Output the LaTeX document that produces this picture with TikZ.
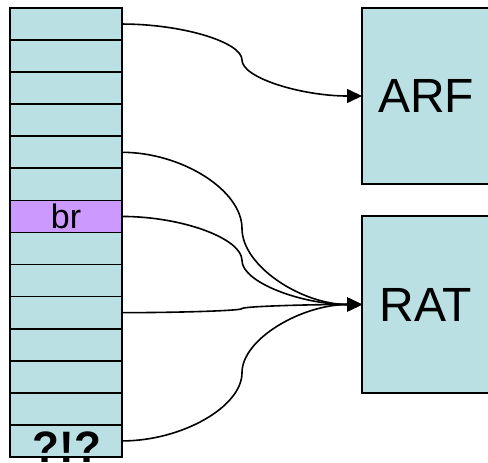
\documentclass[tikz,border=0pt]{standalone}
\usepackage{fontspec}
\setmainfont{Liberation Sans}
\usetikzlibrary{arrows.meta,calc}
\definecolor{slot}{HTML}{BBE0E3}
\definecolor{brslot}{HTML}{CC99FF}

\begin{document}
\begin{tikzpicture}[x=1pt,y=-1pt,
  cell/.style={draw,line width=1.7pt,fill=slot,minimum width=112pt,minimum height=32.07pt,inner sep=0pt,outer sep=0pt},
  table/.style={draw,line width=1.7pt,fill=slot,minimum width=128pt,minimum height=176pt,inner sep=0pt,outer sep=0pt,font=\fontsize{48}{48}\selectfont},
  link/.style={line width=1.6pt,-{Triangle[length=15pt,width=14pt]}}]
  \useasboundingbox (0,0) rectangle (488,463);
  % the queue of instructions
  \foreach \i in {1,...,14}
    \node[cell] (r\i) at (66,{24.03+32.07*(\i-1)}) {};
  \node[cell,fill=brslot,font=\fontsize{34}{34}\selectfont] (br) at (r7) {br};
  \node[font=\bfseries\fontsize{44}{44}\selectfont,anchor=base,inner sep=0pt] (what) at (67,462) {?!?};
  % register files
  \node[table] (arf) at (426,96) {ARF};
  \node[table,minimum height=177pt] (rat) at (426,304.5) {RAT};
  % connectors: two half curves meeting midway
  \draw[link] (r1.east) to[out=0,in=90,out distance=60pt,in distance=18pt] ($(r1.east)!.5!(arf.west)$)
    to[out=-90,in=180,out distance=18pt,in distance=60pt] (arf.west);
  \draw[link] (r5.east) to[out=0,in=90,out distance=60pt,in distance=38pt] ($(r5.east)!.5!(rat.west)$)
    to[out=-90,in=180,out distance=38pt,in distance=60pt] (rat.west);
  \draw[link] (br.east) to[out=0,in=90,out distance=60pt,in distance=22pt] ($(br.east)!.5!(rat.west)$)
    to[out=-90,in=180,out distance=22pt,in distance=60pt] (rat.west);
  \draw[link] (r10.east) to[out=0,in=-90,out distance=60pt,in distance=2pt] ($(r10.east)!.5!(rat.west)$)
    to[out=90,in=180,out distance=2pt,in distance=60pt] (rat.west);
  \draw[link] (r14.east) to[out=0,in=-90,out distance=60pt,in distance=34pt] ($(r14.east)!.5!(rat.west)$)
    to[out=90,in=180,out distance=34pt,in distance=60pt] (rat.west);
\end{tikzpicture}
\end{document}
